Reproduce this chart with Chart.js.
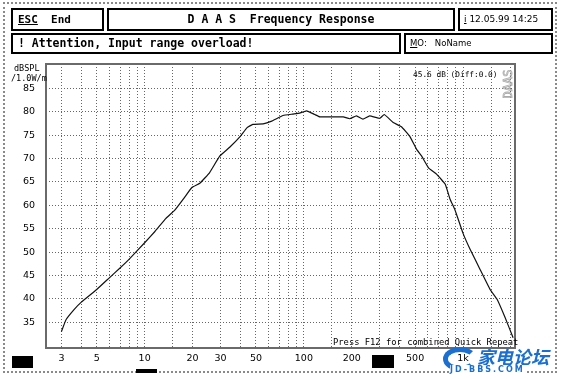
<!DOCTYPE html>
<html><head><meta charset="utf-8">
<script src="https://cdn.jsdelivr.net/npm/chart.js@4/dist/chart.umd.min.js"></script>
<style>
html,body{margin:0;padding:0;background:#fff;}
#wrap{position:relative;width:562px;height:379px;overflow:hidden;background:#fff;}
#c{position:absolute;left:0;top:0;}
.frame{position:absolute;left:3px;top:2px;width:550px;height:367px;border:2px dotted #8a8a8a;}
.box{position:absolute;border:2px solid #000;box-sizing:border-box;background:#fff;font-family:"DejaVu Sans Mono",monospace;color:#000;white-space:nowrap;}
.t{position:absolute;font-family:"DejaVu Sans Mono",monospace;color:#000;white-space:nowrap;}
.blk{position:absolute;background:#000;}
</style></head>
<body><div id="wrap">
<canvas id="c" width="562" height="379"></canvas>
<div class="frame"></div>
<div class="box" style="left:11px;top:8px;width:93px;height:23px;font-weight:bold;font-size:11px;line-height:19px;padding-left:5px;"><u>ESC</u>&nbsp; End</div>
<div class="box" style="left:107px;top:8px;width:348px;height:23px;font-weight:bold;font-size:11.5px;line-height:19px;text-align:center;">D A A S&nbsp; Frequency Response</div>
<div class="box" style="left:458px;top:8px;width:95px;height:23px;font-size:9px;line-height:19px;padding-left:4px;font-family:'DejaVu Sans',sans-serif;"><u>i</u> 12.05.99 14:25</div>
<div class="box" style="left:11px;top:33px;width:390px;height:21px;font-weight:bold;font-size:11.5px;line-height:17px;padding-left:5px;">! Attention, Input range overload!</div>
<div class="box" style="left:404px;top:33px;width:149px;height:21px;font-size:8.5px;line-height:17px;padding-left:4px;font-family:'DejaVu Sans',sans-serif;"><u>M</u>O:&nbsp;&nbsp; NoName</div>
<div class="t" style="left:14px;top:63px;font-size:8.5px;">dBSPL</div>
<div class="t" style="left:11px;top:73px;font-size:8.5px;">/1.0W/m</div>
<div class="t" style="left:413px;top:70px;font-size:7.8px;">45.6 dB (Diff:0.0)</div>
<div class="t" style="left:333px;top:337px;font-size:8.8px;">Press F12 for combined Quick Repeat</div>
<div class="blk" style="left:12px;top:356px;width:21px;height:12px;"></div>
<div class="blk" style="left:136px;top:369px;width:21px;height:4px;"></div>
<div class="blk" style="left:372px;top:355px;width:22px;height:13px;"></div>
<div style="position:absolute;left:443px;top:347px;width:24px;height:14px;border:5px solid #1a6fd0;border-radius:50%;border-right-color:transparent;"></div>
<div class="t" style="left:477px;top:343px;font-size:18px;font-weight:bold;font-style:italic;color:#1a6fd0;font-family:'Noto Sans CJK SC',sans-serif;">家电论坛</div>
<div class="t" style="left:450px;top:365px;font-size:8px;font-weight:bold;color:#1a6fd0;letter-spacing:2px;font-family:'DejaVu Sans',sans-serif;background:#fff;line-height:9px;">JD-BBS.COM</div>
</div>
<script>
const freqs = [3, 3.2, 3.6, 4, 5, 6, 7, 8, 10, 11.6, 13.6, 15.4, 17.8, 19.8, 22.2, 25.6, 29.6, 34.2, 40, 44, 47.8, 55.5, 62.8, 74, 85, 94, 104, 117, 126, 153, 177, 194, 214, 235, 259, 300, 320, 364, 410, 462, 510, 550, 607, 684, 773, 829, 890, 1000, 1107, 1279, 1479, 1636, 1837, 2063];
const splDb = [33.0, 35.5, 37.7, 39.3, 42.0, 44.5, 46.6, 48.5, 52.0, 54.4, 57.2, 58.9, 61.7, 63.8, 64.7, 67.0, 70.5, 72.4, 74.8, 76.6, 77.3, 77.4, 78.0, 79.2, 79.5, 79.7, 80.2, 79.4, 78.9, 78.9, 78.9, 78.5, 79.1, 78.4, 79.1, 78.6, 79.4, 77.7, 76.8, 74.8, 72.0, 70.5, 68.0, 66.6, 64.5, 61.3, 59.0, 54.0, 50.6, 46.3, 42.0, 39.9, 36.0, 31.7];
const xGrid = [3,4,5,6,7,8,9,10,15,20,30,40,50,60,70,80,90,100,150,200,300,400,500,600,700,800,900,1000,1500,2000];
const xLabels = {3:'3',5:'5',10:'10',20:'20',30:'30',50:'50',100:'100',200:'200',500:'500',1000:'1k'};
const yTicks = [35,40,45,50,55,60,65,70,75,80,85];

const points = freqs.map((f,i)=>({x:f,y:splDb[i]}));

const framePlugin = {
  id:'frame',
  afterDraw(chart){
    const {ctx, chartArea:a} = chart;
    ctx.save();
    ctx.strokeStyle = '#6a6a6a';
    ctx.lineWidth = 2;
    ctx.strokeRect(a.left, a.top, a.right-a.left, a.bottom-a.top);
    ctx.translate(a.right-6, a.top+20);
    ctx.rotate(-Math.PI/2);
    ctx.font = '12px "DejaVu Sans Mono"';
    ctx.textAlign = 'center';
    ctx.textBaseline = 'middle';
    ctx.strokeStyle = '#aaa';
    ctx.lineWidth = 0.8;
    ctx.strokeText('DAAS', 0, 0);
    ctx.restore();
  }
};

new Chart(document.getElementById('c'), {
  type:'line',
  data:{datasets:[{data:points, borderColor:'#111', borderWidth:1.2, pointRadius:0, tension:0.1, fill:false}]},
  options:{
    responsive:false, animation:false,
    layout:{padding:{left:0,top:64,right:47,bottom:0}},
    plugins:{legend:{display:false}, tooltip:{enabled:false}},
    scales:{
      x:{type:'logarithmic', min:2.4, max:2120,
        afterBuildTicks(s){ s.ticks = xGrid.map(v=>({value:v})); },
        afterFit(s){ s.height = 31; },
        grid:{color:'#666', lineWidth:1, drawTicks:false},
        border:{display:false, dash:[1,2]},
        ticks:{autoSkip:false, maxRotation:0, padding:5, color:'#000', font:{family:'DejaVu Sans', size:9.5},
          callback:(v)=> xLabels[v] !== undefined ? xLabels[v] : ''}
      },
      y:{type:'linear', min:29.5, max:90.2,
        afterBuildTicks(s){ s.ticks = yTicks.map(v=>({value:v})); },
        afterFit(s){ s.width = 46; },
        grid:{color:'#666', lineWidth:1, drawTicks:false},
        border:{display:false, dash:[1,2]},
        ticks:{padding:11, color:'#000', font:{family:'DejaVu Sans', size:9.5}}
      }
    }
  },
  plugins:[framePlugin]
});
</script>
</body></html>
